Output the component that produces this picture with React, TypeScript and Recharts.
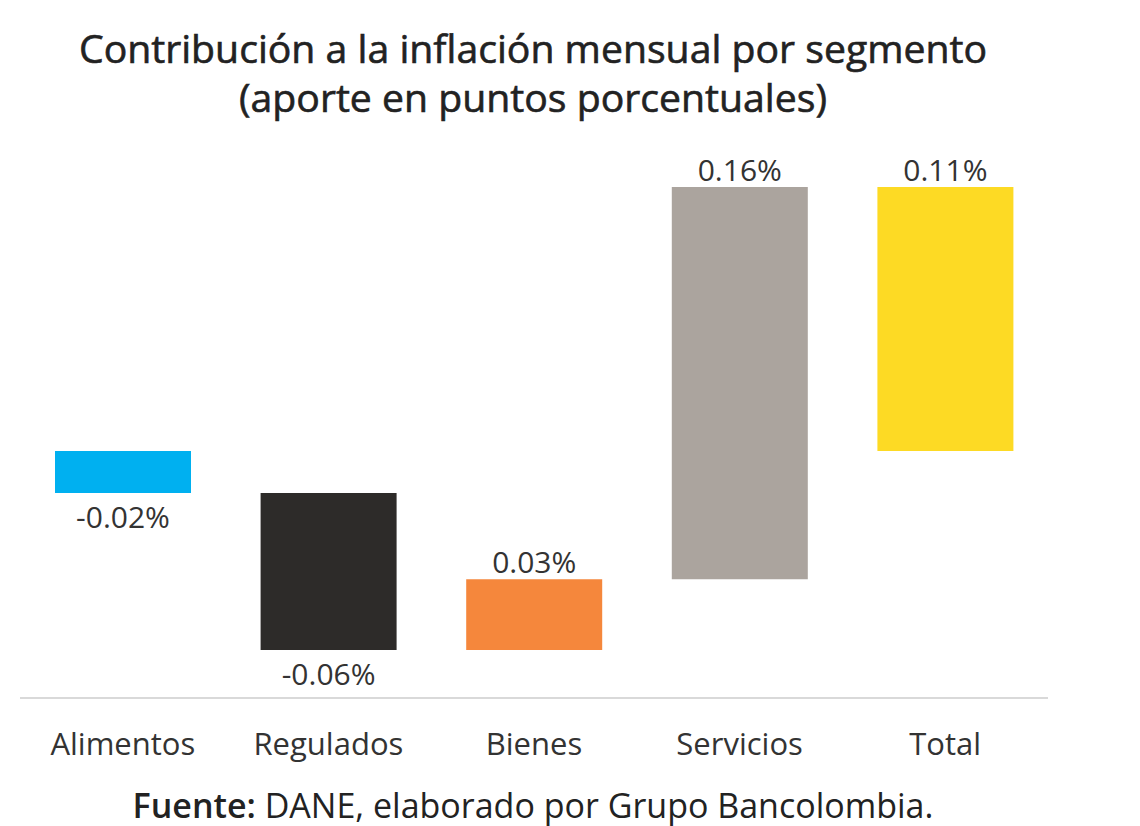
import React from "react";
import { BarChart, Bar, XAxis, YAxis, Cell, LabelList } from "recharts";

const categories = ["Alimentos", "Regulados", "Bienes", "Servicios", "Total"];
const contributions = [-0.0175, -0.0655, 0.0295, 0.1635, 0.11];
const valueLabels = ["-0.02%", "-0.06%", "0.03%", "0.16%", "0.11%"];
const barColors = ["#00B0F0", "#2D2B29", "#F5873C", "#ABA49E", "#FDDA24"];
const isTotal = [false, false, false, false, true];

const buildRows = () => {
  let running = 0;
  return categories.map((name, i) => {
    const v = contributions[i];
    let low: number;
    let high: number;
    if (isTotal[i]) {
      low = Math.min(0, v);
      high = Math.max(0, v);
    } else {
      const start = running;
      const end = running + v;
      running = end;
      low = Math.min(start, end);
      high = Math.max(start, end);
    }
    return { name, low, high, value: v, label: valueLabels[i] };
  });
};

const rows = buildRows();

const FONT = "'Open Sans', 'Noto Sans', sans-serif";

const ValueLabel = (props: any) => {
  const { x, y, width, height, index } = props;
  const top = Math.min(y, y + height);
  const bottom = Math.max(y, y + height);
  const neg = rows[index].value < 0;
  const cx = x + width / 2;
  const ty = neg ? bottom + 35 : top - 6;
  return (
    <text x={cx} y={ty} textAnchor="middle" fontSize={30} fill="#333333" fontFamily={FONT}>
      {rows[index].label}
    </text>
  );
};

export default function App() {
  return (
    <div style={{ position: "absolute", left: 0, top: 0, width: 1140, height: 826, background: "#fff", fontFamily: FONT }}>
      <div
        style={{
          position: "absolute",
          left: 0,
          top: 23,
          width: 1066,
          textAlign: "center",
          fontSize: 39.2,
          lineHeight: "49px",
          color: "#222",
          fontWeight: 400,
          WebkitTextStroke: "0.6px #222",
        }}
      >
        Contribución a la inflación mensual por segmento
        <br />
        (aporte en puntos porcentuales)
      </div>
      <div style={{ position: "absolute", left: 0, top: 0 }}>
        <BarChart
          width={1140}
          height={826}
          data={rows}
          margin={{ top: 163, right: 92, bottom: 68, left: 20 }}
        >
          <XAxis
            dataKey="name"
            axisLine={{ stroke: "#D9D9D9", strokeWidth: 2 }}
            tickLine={false}
            tickMargin={29}
            height={60}
            interval={0}
            tick={{ fontSize: 31, fill: "#333333", fontFamily: FONT }}
          />
          <YAxis hide domain={[-0.103, 0.12]} type="number" />
          <Bar dataKey={(d: any) => [d.low, d.high]} barSize={136} isAnimationActive={false}>
            {rows.map((r, i) => (
              <Cell key={r.name} fill={barColors[i]} />
            ))}
            <LabelList content={<ValueLabel />} />
          </Bar>
        </BarChart>
      </div>
      <div style={{ position: "absolute", left: 0, top: 789, width: 1066, textAlign: "center", fontSize: 34, lineHeight: "33px", color: "#222" }}>
        <span style={{ fontWeight: 600 }}>Fuente:</span> DANE, elaborado por Grupo Bancolombia.
      </div>
    </div>
  );
}
